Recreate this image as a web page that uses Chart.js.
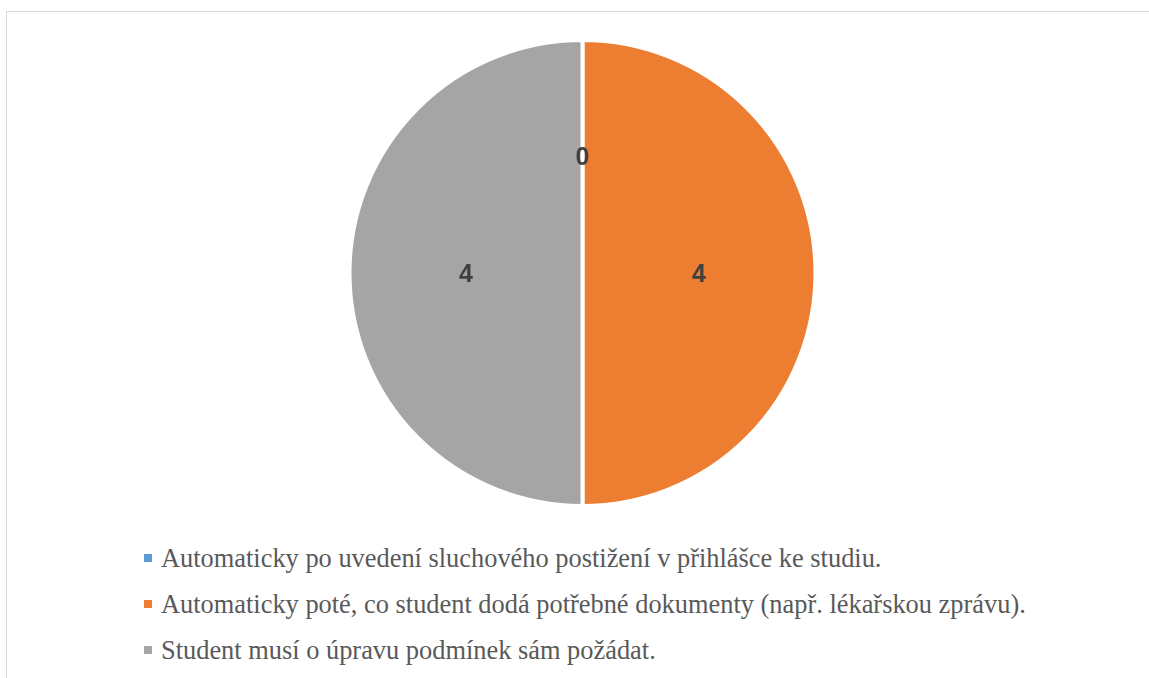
<!DOCTYPE html>
<html>
<head>
<meta charset="utf-8">
<script src="https://cdn.jsdelivr.net/npm/chart.js@4.4.1/dist/chart.umd.min.js"></script>
<style>
  html, body { margin: 0; padding: 0; background: #fff; }
  body { width: 1149px; height: 678px; overflow: hidden; position: relative; }
  #frame {
    position: absolute; left: 6px; top: 11px; width: 1200px; height: 720px;
    border: 1px solid #d9d9d9; box-sizing: border-box;
  }
  #pieBox { position: absolute; left: 8px; top: 38px; width: 1149px; height: 470px; }
  #legend {
    position: absolute; left: 144px; top: 540px;
    font-family: "Times New Roman", Tinos, "Liberation Serif", "Noto Serif", "DejaVu Serif", serif;
    font-size: 26.4px; color: #595959;
  }
  .item { position: relative; height: 46px; line-height: 36px; white-space: nowrap; padding-left: 17px; }
  .sw { position: absolute; left: 0; top: 14px; width: 8px; height: 8px; }
</style>
</head>
<body>
<div id="frame"></div>
<div id="pieBox"><canvas id="pie"></canvas></div>
<div id="legend"></div>
<script>
// data
const labels = [
  "Automaticky po uvedení sluchového postižení v přihlášce ke studiu.",
  "Automaticky poté, co student dodá potřebné dokumenty (např. lékařskou zprávu).",
  "Student musí o úpravu podmínek sám požádat."
];
const counts = [0, 4, 4];
const colors = ["#5b9bd5", "#ed7d31", "#a5a5a5"];

// value labels at half radius, also for the zero slice
const sliceLabels = {
  id: "sliceLabels",
  afterDatasetsDraw(chart) {
    const ctx = chart.ctx;
    const meta = chart.getDatasetMeta(0);
    ctx.save();
    ctx.font = "bold 25px 'Liberation Sans', Arial, sans-serif";
    ctx.fillStyle = "#404040";
    ctx.textAlign = "center";
    ctx.textBaseline = "middle";
    meta.data.forEach((arc, i) => {
      const p = arc.getProps(["x", "y", "startAngle", "endAngle", "outerRadius"], true);
      const mid = (p.startAngle + p.endAngle) / 2;
      const r = p.outerRadius * 0.5;
      ctx.fillText(String(counts[i]), p.x + Math.cos(mid) * r, p.y + Math.sin(mid) * r + 2);
    });
    ctx.restore();
  }
};

new Chart(document.getElementById("pie"), {
  type: "pie",
  data: {
    labels: labels,
    datasets: [{
      data: counts,
      backgroundColor: colors,
      borderColor: "#ffffff",
      borderWidth: 4
    }]
  },
  options: {
    responsive: true,
    maintainAspectRatio: false,
    animation: false,
    plugins: {
      legend: { display: false },
      tooltip: { enabled: false }
    }
  },
  plugins: [sliceLabels]
});

// legend built from the same arrays
const legend = document.getElementById("legend");
labels.forEach((txt, i) => {
  const row = document.createElement("div");
  row.className = "item";
  const sw = document.createElement("span");
  sw.className = "sw";
  sw.style.background = colors[i];
  row.appendChild(sw);
  row.appendChild(document.createTextNode(txt));
  legend.appendChild(row);
});
</script>
</body>
</html>
